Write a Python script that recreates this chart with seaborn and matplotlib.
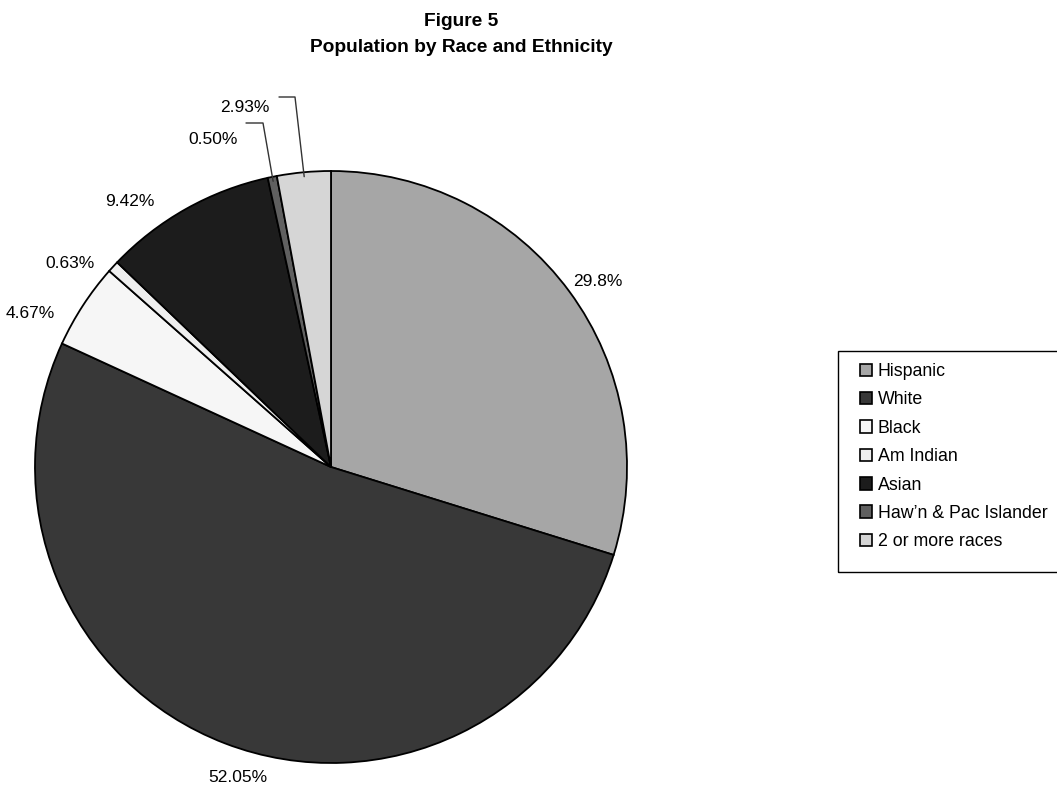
import matplotlib
matplotlib.use("Agg")
import matplotlib.pyplot as plt
import numpy as np
import seaborn as sns
from matplotlib.patches import Patch, Rectangle

categories = ["Hispanic", "White", "Black", "Am Indian", "Asian",
              "Haw\u2019n & Pac Islander", "2 or more races"]
values = [29.8, 52.05, 4.67, 0.63, 9.42, 0.50, 2.93]
value_labels = ["29.8%", "52.05%", "4.67%", "0.63%", "9.42%", "0.50%", "2.93%"]
colors = ["#A6A6A6", "#383838", "#F6F6F6", "#EEEEEE", "#1C1C1C", "#606060", "#D6D6D6"]

sns.set_theme(style="white")
plt.rcParams['font.family'] = ['Liberation Sans', 'DejaVu Sans']
plt.rcParams['text.color'] = 'black'

W, H = 1057, 791
fig = plt.figure(figsize=(W / 100, H / 100), dpi=100)
ax = fig.add_axes([0, 0, 1, 1])

cx, cy, R = 331, H - 467, 296
wedges, _ = ax.pie(values, colors=colors, startangle=90, counterclock=False,
                   center=(cx, cy), radius=R, frame=True,
                   wedgeprops=dict(edgecolor='black', linewidth=1.3))
ax.set_xlim(0, W)
ax.set_ylim(0, H)
ax.set_aspect('equal')
ax.axis('off')

# label layout positions (pixel coords, from top)
label_pos = [(598, 282), (238, 778), (30, 314), (70, 263), (130, 202), (213, 139), (245, 107)]
for (x, y), t in zip(label_pos, value_labels):
    ax.text(x, H - y, t, ha='center', va='center', fontsize=12.5, color='black')

# leader lines for the small slices
total = sum(values)
cum = np.cumsum([0] + values)
mids = [90 - (cum[i] + values[i] / 2) / total * 360 for i in range(len(values))]
leaders = {5: [(246, 123), (263, 123)], 6: [(279, 97), (295, 97)]}
for i, pts in leaders.items():
    ang = np.deg2rad(mids[i])
    ex, ey = cx + 0.985 * R * np.cos(ang), cy + 0.985 * R * np.sin(ang)
    xs = [p[0] for p in pts] + [ex]
    ys = [H - p[1] for p in pts] + [ey]
    ax.plot(xs, ys, color='#333333', linewidth=1.0)

fig.text(461 / W, 1 - 22 / H, "Figure 5", ha='center', va='center',
         fontsize=13.8, fontweight='bold', color='black')
fig.text(461 / W, 1 - 48 / H, "Population by Race and Ethnicity", ha='center', va='center',
         fontsize=13.8, fontweight='bold', color='black')

# legend frame
ax.add_patch(Rectangle((838, H - 572), 240, 221, fill=False, edgecolor='black',
                       linewidth=1.0, clip_on=False))
handles = [Patch(facecolor=c, edgecolor='black', linewidth=1.2) for c in colors]
leg = ax.legend(handles, categories, loc='upper left',
                bbox_to_anchor=(860 / W, 1 - 363 / H), bbox_transform=fig.transFigure,
                frameon=False, fontsize=12.8, handlelength=0.7, handleheight=0.7,
                handletextpad=0.3, labelspacing=0.64, borderpad=0, borderaxespad=0)
for t in leg.get_texts():
    t.set_color('black')

fig.savefig("out.png", dpi=100)
